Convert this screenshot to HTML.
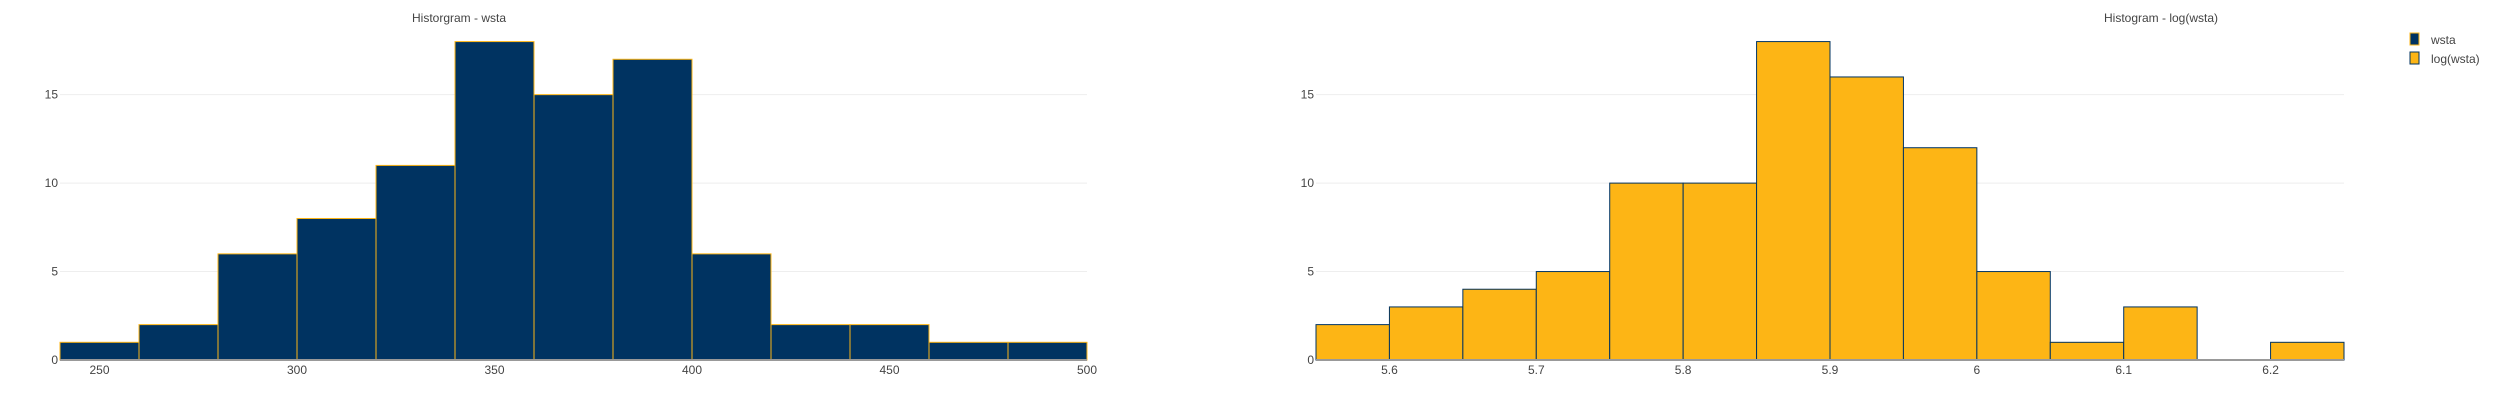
<!DOCTYPE html>
<html><head><meta charset="utf-8"><style>
body{margin:0;background:#fff;}
svg text{font-family:"Liberation Sans",sans-serif;fill:#444;}
</style></head><body>
<svg id="chart" width="2501" height="400"></svg>
<script>
const binsA = [240,260,280,300,320,340,360,380,400,420,440,460,480,500];
const countsA = [1,2,6,8,11,18,15,17,6,2,2,1,1];
const ticksA = [250,300,350,400,450,500];
const binsB = [5.55,5.6,5.65,5.7,5.75,5.8,5.85,5.9,5.95,6.0,6.05,6.1,6.15,6.2,6.25];
const countsB = [2,3,4,5,10,10,18,16,12,5,1,3,0,1];
const ticksB = [5.6,5.7,5.8,5.9,6,6.1,6.2];
const yTicks = [0,5,10,15];

const svg = document.getElementById('chart');
const NS = 'http://www.w3.org/2000/svg';
function mk(tag, attrs, parent){const e=document.createElementNS(NS,tag);for(const k in attrs)e.setAttribute(k,attrs[k]);(parent||svg).appendChild(e);return e;}
function y(v){return 360 - v*17.69;}

function panel(name, x0, x1, xmin, xmax, bins, counts, ticks, fill, stroke, title, titleX){
  const g = mk('g',{});
  
  
  const sx = v => x0 + (v-xmin)/(xmax-xmin)*(x1-x0);
  yTicks.forEach(t=>{
    if(t>0){const l=mk('line',{x1:x0,x2:x1,y1:y(t),y2:y(t),stroke:'#eee','stroke-width':1},g);
      
      }
    const tx=mk('text',{x:x0-2,y:y(t)+4,'font-size':12,'text-anchor':'end'},g);
    tx.textContent=t;
    
    
  });
  counts.forEach((c,i)=>{
    if(c<=0) return;
    const r=mk('rect',{x:sx(bins[i]),y:y(c),width:sx(bins[i+1])-sx(bins[i]),height:y(0)-y(c),fill:fill,stroke:stroke,'stroke-width':1},g);
    
    
  });
  const z=mk('line',{x1:x0,x2:x1,y1:y(0),y2:y(0),stroke:'#999','stroke-width':2},g);
  
  
  ticks.forEach(t=>{
    const tx=mk('text',{x:sx(t),y:374,'font-size':12,'text-anchor':'middle'},g);
    tx.textContent=t;
    
    
  });
  const tt=mk('text',{x:titleX,y:22,'font-size':12,'text-anchor':'middle'},g);
  tt.textContent=title;
  
  
}
panel('histogram-wsta',60,1087,240,500,binsA,countsA,ticksA,'#003361','#fdb515','Historgram - wsta',459);
panel('histogram-log-wsta',1316,2344,5.55,6.25,binsB,countsB,ticksB,'#fdb515','#003361','Histogram - log(wsta)',2161);
</script>
<svg style="position:absolute;left:0;top:0" width="2501" height="400">
  <g>
    <rect x="2410" y="33" width="9" height="12" fill="#003361" stroke="#fdb515"/>
    <text x="2431" y="44" font-size="12" font-family="Liberation Sans, sans-serif" fill="#444">wsta</text>
  </g>
  <g>
    <rect x="2410" y="52" width="9" height="12" fill="#fdb515" stroke="#003361"/>
    <text x="2431" y="63" font-size="12" font-family="Liberation Sans, sans-serif" fill="#444">log(wsta)</text>
  </g>
</svg>
</body></html>
